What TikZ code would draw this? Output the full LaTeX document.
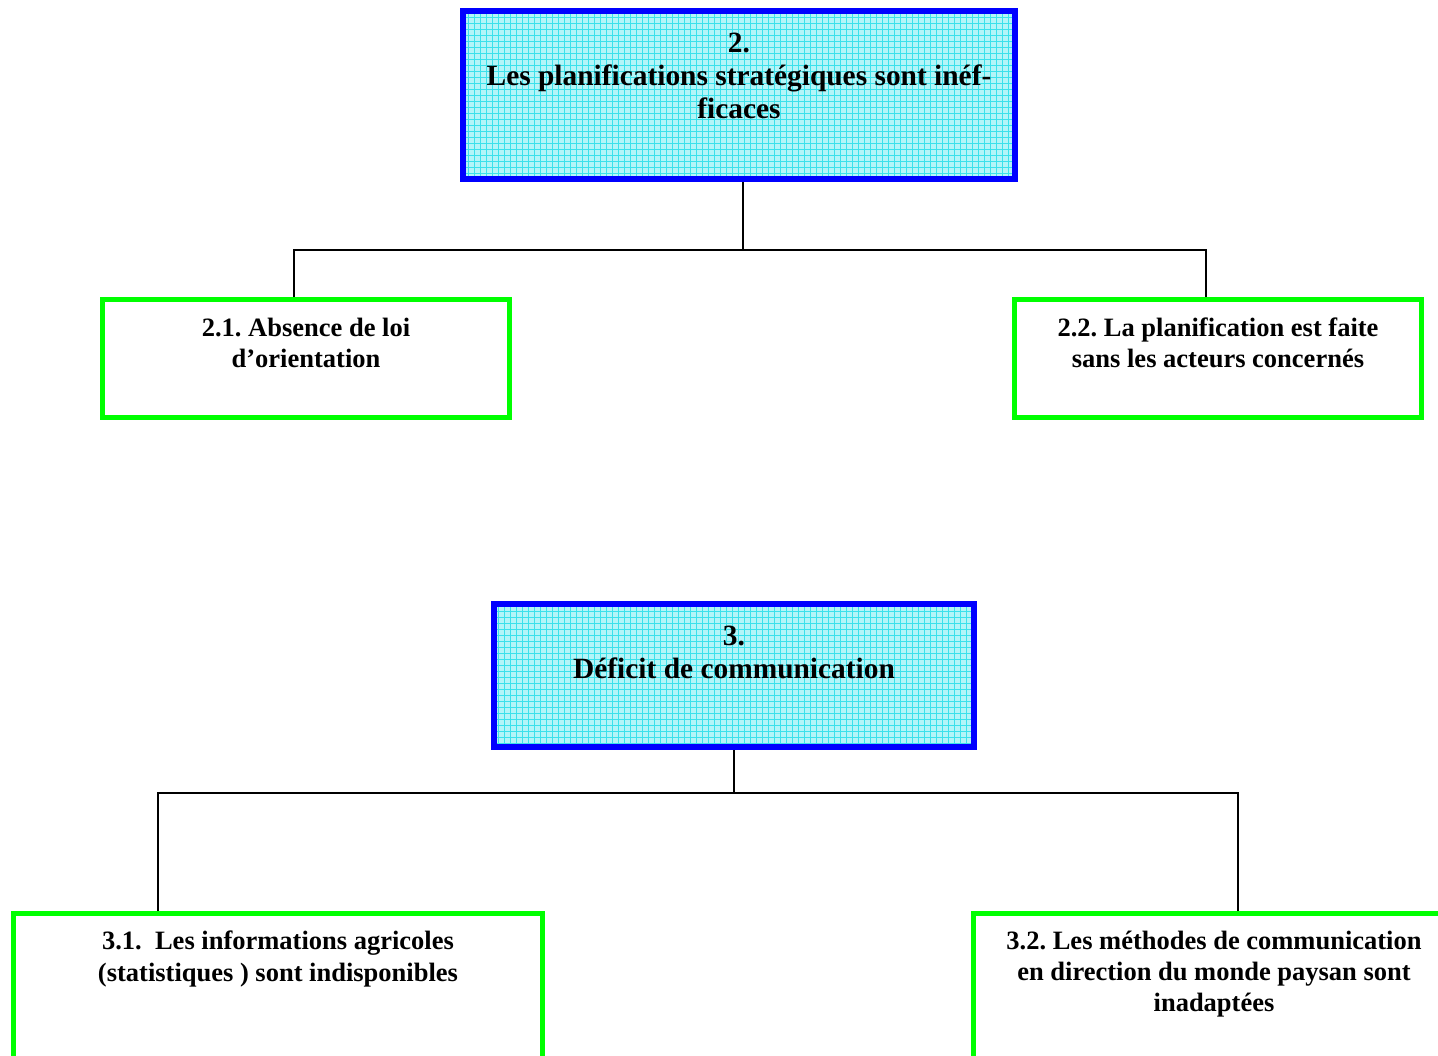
\documentclass[tikz,border=0pt]{standalone}
\usepackage{fontspec}
\setmainfont{Liberation Serif}
\usetikzlibrary{patterns}
\definecolor{bborder}{RGB}{0,0,255}
\definecolor{gborder}{RGB}{0,255,0}
\definecolor{cfill}{RGB}{180,245,248}
\definecolor{cgrid}{RGB}{60,225,235}
\frenchspacing
\begin{document}
\begin{tikzpicture}[x=0.5pt,y=-0.5pt,
  mainbox/.style={draw=bborder,line width=3pt,inner sep=0pt,
    preaction={fill=cfill},pattern=grid,pattern color=cgrid},
  subbox/.style={draw=gborder,line width=2.5pt,inner sep=0pt,fill=white},
  maintext/.style={font=\bfseries\fontsize{14.7}{16.5}\selectfont,align=center,inner sep=0pt},
  boxtext/.style={font=\bfseries\fontsize{13.25}{15.6}\selectfont,align=center,inner sep=0pt},
  link/.style={draw=black,line width=0.6pt}]
\path[use as bounding box,clip] (0,0) rectangle (1438,1055);
\fill[white] (0,0) rectangle (1438,1055);
% boxes
\node[mainbox,minimum width=276pt,minimum height=84pt] (b2) at (739,95) {};
\node[subbox,minimum width=203.5pt,minimum height=59pt] (b21) at (306,358.5) {};
\node[subbox,minimum width=203.5pt,minimum height=59pt] (b22) at (1218,358.5) {};
\node[mainbox,minimum width=240pt,minimum height=71.5pt] (b3) at (734,675.5) {};
\node[subbox,minimum width=264.5pt,minimum height=90pt] (b31) at (278,1003.5) {};
\node[subbox,minimum width=250pt,minimum height=90pt] (b32) at (1223.5,1003.5) {};
% texts
\node[maintext] (t2) at (739,76) {2.\\Les planifications stratégiques sont inéf-\\ficaces};
\node[boxtext] (t21) at (306,343) {2.1. Absence de loi\\d’orientation};
\node[boxtext] (t22) at (1218,343) {2.2. La planification est faite\\sans les acteurs concernés};
\node[maintext] (t3) at (734,652.5) {3.\\Déficit de communication};
\node[boxtext] (t31) at (278,959) {3.1.\ \ Les informations agricoles\\(statistiques ) sont indisponibles};
\node[boxtext] (t32) at (1214,974) {3.2. Les méthodes de communication\\en direction du monde paysan sont\\inadaptées};
% connectors
\coordinate (j2) at (743,250);
\coordinate (j3) at (734,793);
\draw[link] ([xshift=2pt]b2.south) -- (j2);
\draw[link] ([xshift=-6pt]b21.north) |- (j2);
\draw[link] ([xshift=-6pt]b22.north) |- (j2);
\draw[link] (b3.south) -- (j3);
\draw[link] ([xshift=-60pt]b31.north) |- (j3);
\draw[link] ([xshift=7.25pt]b32.north) |- (j3);
\end{tikzpicture}
\end{document}
